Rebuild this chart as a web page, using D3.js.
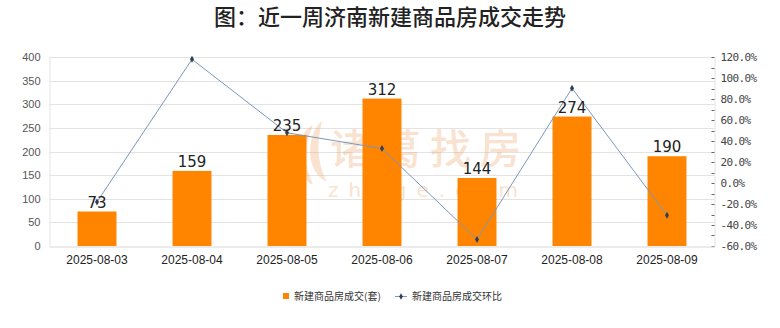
<!DOCTYPE html>
<html>
<head>
<meta charset="utf-8">
<script src="https://cdn.jsdelivr.net/npm/d3@7/dist/d3.min.js"></script>
<style>
  html, body { margin: 0; padding: 0; background: #fff; }
  svg { display: block; font-family: "Noto Sans CJK SC", "Noto Sans", sans-serif; }
</style>
</head>
<body>
<svg id="chart" width="780" height="328"></svg>
<script>
// Weekly new-home transactions in Jinan
const dates = ["2025-08-03", "2025-08-04", "2025-08-05", "2025-08-06", "2025-08-07", "2025-08-08", "2025-08-09"];
const units = [73, 159, 235, 312, 144, 274, 190];
// week-over-week change, percent
const changePct = [-18.0, 117.8, 47.8, 32.8, -53.8, 90.3, -30.7];
const leftTicks = [0, 50, 100, 150, 200, 250, 300, 350, 400];
const rightTicks = [-60, -40, -20, 0, 20, 40, 60, 80, 100, 120];
const seriesNames = ["新建商品房成交(套)", "新建商品房成交环比"];
const titleText = "图：近一周济南新建商品房成交走势";

const svg = d3.select("#chart");
const m = { left: 49.5, right: 714.5, top: 57, bottom: 246 };

const x = d3.scaleBand().domain(dates).range([m.left, m.right]).paddingInner(0.59).paddingOuter(0.295);
const y = d3.scaleLinear().domain([0, 400]).range([m.bottom, m.top]);
const y2 = d3.scaleLinear().domain([-60, 120]).range([m.bottom, m.top]);

// title
svg.append("text")
  .attr("x", 390).attr("y", 25)
  .attr("text-anchor", "middle")
  .attr("font-size", 22).attr("font-weight", 500).attr("fill", "#222")
  .text(titleText);

// grid lines
svg.append("g").selectAll("line").data(leftTicks.slice(1)).join("line")
  .attr("x1", m.left).attr("x2", m.right)
  .attr("y1", d => Math.round(y(d)) + 0.5).attr("y2", d => Math.round(y(d)) + 0.5)
  .attr("stroke", "#e3e3e3");

// left axis
const gl = svg.append("g").attr("transform", `translate(${m.left},0)`)
  .call(d3.axisLeft(y).tickValues(leftTicks).tickSize(0).tickPadding(9));
gl.select(".domain").attr("stroke", "#e3e3e3");
gl.selectAll("text").attr("font-size", 11).attr("fill", "#555").attr("font-family", "'Liberation Sans', Arial, sans-serif");

// right axis with minor ticks every 10%
const gr = svg.append("g").attr("transform", `translate(${m.right},0)`)
  .call(d3.axisRight(y2).tickValues(rightTicks).tickSize(0).tickPadding(6).tickFormat(d => d.toFixed(1) + "%"));
gr.select(".domain").attr("stroke", "#e3e3e3");
gr.selectAll("text").attr("font-size", 11).attr("fill", "#444").attr("font-family", "'DejaVu Sans Mono', monospace").attr("letter-spacing", -0.6);
gr.append("g").selectAll("line").data(d3.range(-60, 121, 10)).join("line")
  .attr("x1", -3).attr("x2", 0)
  .attr("y1", d => Math.round(y2(d)) + 0.5).attr("y2", d => Math.round(y2(d)) + 0.5)
  .attr("stroke", "#666");

// bottom axis
const gb = svg.append("g").attr("transform", `translate(0,${m.bottom + 0.5})`)
  .call(d3.axisBottom(x).tickSize(0).tickPadding(9));
gb.select(".domain").attr("stroke", "#d8d8d8");
gb.selectAll("text").attr("font-size", 12).attr("fill", "#222").attr("font-family", "'Liberation Sans', Arial, sans-serif");

// watermark, sits behind the bars
const wm = svg.append("g").attr("opacity", 0.28).attr("fill", "#eb9b55");
wm.append("path")
  .attr("d", "M312,126 C294,140 294,170 312,184 C303,166 303,144 312,126 Z M321,122 C306,140 308,170 325,180 C316,162 316,142 321,122 Z")
  .attr("stroke", "#eb9b55").attr("stroke-width", 1.5);
wm.append("text").attr("x", 330).attr("y", 164)
  .attr("font-size", 41).attr("font-weight", 500).attr("letter-spacing", 9).text("诸葛找房");
wm.append("text").attr("x", 328).attr("y", 197)
  .attr("font-size", 20).attr("letter-spacing", 10).attr("font-family", "'DejaVu Sans', sans-serif").text("zhuge.com");

// bars
svg.append("g").selectAll("rect").data(units).join("rect")
  .attr("x", (d, i) => x(dates[i])).attr("width", x.bandwidth())
  .attr("y", d => y(d)).attr("height", d => y(0) - y(d))
  .attr("fill", "#ff8500");

// change line
const line = d3.line().x((d, i) => x(dates[i]) + x.bandwidth() / 2).y(d => y2(d));
svg.append("path").datum(changePct)
  .attr("d", line).attr("fill", "none").attr("stroke", "#7b97bd").attr("stroke-width", 1);
svg.append("g").selectAll("path").data(changePct).join("path")
  .attr("transform", (d, i) => `translate(${x(dates[i]) + x.bandwidth() / 2},${y2(d)})`)
  .attr("d", d3.symbol().type(d3.symbolDiamond).size(14))
  .attr("fill", "#2f3f55");

// value labels
svg.append("g").selectAll("text").data(units).join("text")
  .attr("x", (d, i) => x(dates[i]) + x.bandwidth() / 2)
  .attr("y", d => y(d) - 4)
  .attr("text-anchor", "middle")
  .attr("font-size", 15).attr("fill", "#222").attr("font-family", "'DejaVu Sans', sans-serif")
  .text(d => d);

// legend
const lg = svg.append("g");
lg.append("rect").attr("x", 283).attr("y", 293).attr("width", 6).attr("height", 6).attr("fill", "#ff8500");
lg.append("text").attr("x", 294).attr("y", 300).attr("font-size", 10).attr("fill", "#333").text(seriesNames[0]);
lg.append("line").attr("x1", 395).attr("x2", 407).attr("y1", 296.5).attr("y2", 296.5).attr("stroke", "#7b97bd");
lg.append("path").attr("transform", "translate(401,296.5)").attr("d", d3.symbol().type(d3.symbolDiamond).size(12)).attr("fill", "#2f3f55");
lg.append("text").attr("x", 412).attr("y", 300).attr("font-size", 10).attr("fill", "#333").text(seriesNames[1]);
</script>
</body>
</html>
